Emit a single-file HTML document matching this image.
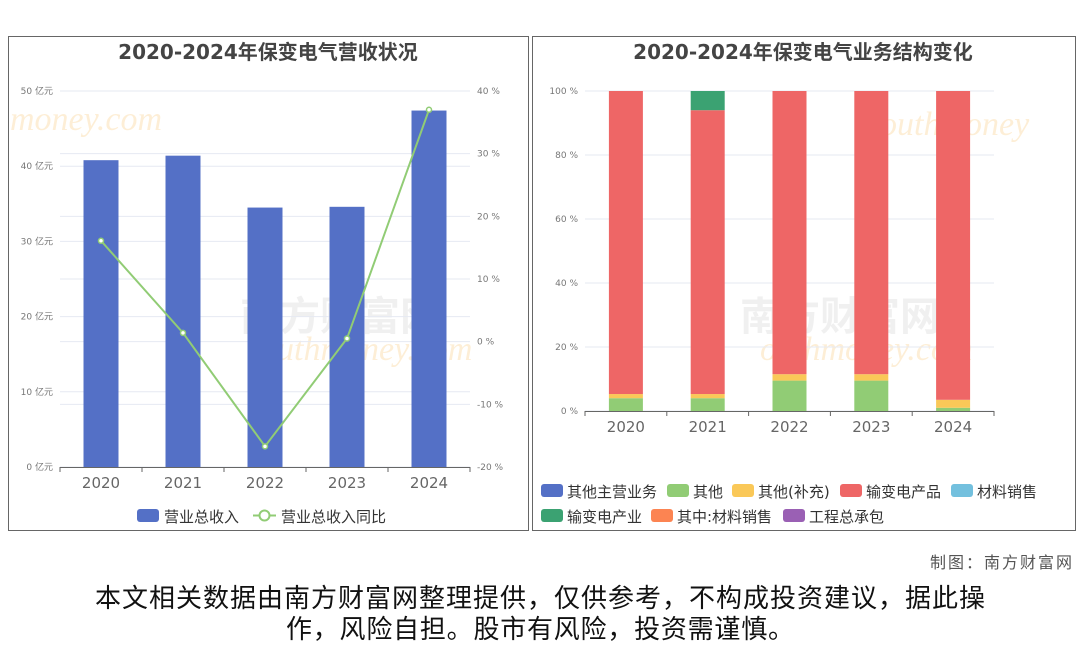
<!DOCTYPE html>
<html><head><meta charset="utf-8">
<style>
body{margin:0;background:#fff;width:1080px;height:646px;overflow:hidden;font-family:"DejaVu Sans","Noto Sans CJK SC",sans-serif;}
svg text{font-family:"DejaVu Sans","Noto Sans CJK SC",sans-serif;}
</style></head>
<body>
<svg id="s" width="1080" height="646" xmlns="http://www.w3.org/2000/svg">
<rect x="8.5" y="36.5" width="520" height="494" fill="none" stroke="#666"/>
<rect x="532.5" y="36.5" width="543" height="494" fill="none" stroke="#666"/>
<g opacity="0.12" fill="#888" font-size="40" font-weight="bold">
<text x="740" y="330">南方财富网</text><text x="240" y="330">南方财富网</text>
</g>
<g opacity="0.18" fill="#f5a623" font-size="34" font-style="italic">
<text x="760" y="360" style="font-family:'Liberation Serif',serif">outhmoney.com</text><text x="260" y="360" style="font-family:'Liberation Serif',serif">outhmoney.com</text><text x="10" y="130" style="font-family:'Liberation Serif',serif">money.com</text><text x="880" y="135" style="font-family:'Liberation Serif',serif">outhmoney</text>
</g>
<text x="268" y="59" text-anchor="middle" font-size="20" font-weight="bold" fill="#444">2020-2024年保变电气营收状况</text>
<text x="803" y="59" text-anchor="middle" font-size="20" font-weight="bold" fill="#444">2020-2024年保变电气业务结构变化</text>
<g id="L"></g><g id="R"></g>
<text x="1072" y="568" text-anchor="end" font-size="16" fill="#555" textLength="142">制图：南方财富网</text>
<text x="540" y="607" text-anchor="middle" font-size="26" fill="#111" textLength="890">本文相关数据由南方财富网整理提供，仅供参考，不构成投资建议，据此操</text>
<text x="540" y="638" text-anchor="middle" font-size="26" fill="#111" textLength="508">作，风险自担。股市有风险，投资需谨慎。</text>
</svg>
<script>
const years=["2020","2021","2022","2023","2024"];
const revenue=[40.8,41.4,34.5,34.6,47.4];
const growth=[16.1,1.4,-16.7,0.5,37.0];
const leftTicks=[0,10,20,30,40,50];
const rightTicks=[-20,-10,0,10,20,30,40];
const segNames=["其他主营业务","其他","其他(补充)","输变电产品","材料销售","输变电产业","其中:材料销售","工程总承包"];
const segColors=["#5470c6","#91cc75","#fac858","#ee6666","#73c0de","#3ba272","#fc8452","#9a60b4"];
const segOther=[4,4,9.5,9.5,1];
const segSupp=[1.3,1.3,2,2,2.5];
const segProduct=[94.7,88.7,88.5,88.5,96.5];
const segIndustry=[0,6,0,0,0];
const pctTicks=[0,20,40,60,80,100];

const NS="http://www.w3.org/2000/svg";
function mk(p,t,a,txt){const e=document.createElementNS(NS,t);for(const k in a)e.setAttribute(k,a[k]);if(txt!==undefined)e.textContent=txt;p.appendChild(e);return e;}
const L=document.getElementById('L');
const lx0=60,lx1=470,ly0=467,ly1=91;
const yL=v=>ly0-(v/50)*(ly0-ly1);
const yR=v=>ly0-((v+20)/60)*(ly0-ly1);
const bw=(lx1-lx0)/years.length;
const xc=i=>lx0+bw*(i+0.5);
leftTicks.forEach(t=>{const g=mk(L,'line',{x1:lx0,x2:lx1,y1:yL(t),y2:yL(t),stroke:'#e6e9f2'});
const tx=mk(L,'text',{x:53,y:yL(t)+3,'text-anchor':'end','font-size':9,fill:'#777'},t+' 亿元');});
rightTicks.forEach(t=>{const g=mk(L,'line',{x1:lx0,x2:lx1,y1:yR(t),y2:yR(t),stroke:'#e6e9f2'});
const tx=mk(L,'text',{x:477,y:yR(t)+3,'font-size':9,fill:'#777'},t+' %');});
revenue.forEach((v,i)=>{const r=mk(L,'rect',{x:xc(i)-17.5,y:yL(v),width:35,height:ly0-yL(v),fill:'#5470c6'});});
const ax=mk(L,'line',{x1:lx0,x2:lx1,y1:ly0+0.5,y2:ly0+0.5,stroke:'#666'});
years.forEach((y,i)=>{mk(L,'line',{x1:lx0+bw*i,x2:lx0+bw*i,y1:ly0,y2:ly0+5,stroke:'#666'});mk(L,'line',{x1:lx1,x2:lx1,y1:ly0,y2:ly0+5,stroke:'#666'});
const t=mk(L,'text',{x:xc(i),y:488,'text-anchor':'middle','font-size':15,fill:'#666'},y);});
const pl=mk(L,'polyline',{points:growth.map((v,i)=>xc(i)+','+yR(v)).join(' '),fill:'none',stroke:'#91cc75','stroke-width':2});

growth.forEach((v,i)=>{const c=mk(L,'circle',{cx:xc(i),cy:yR(v),r:2.5,fill:'#fff',stroke:'#91cc75','stroke-width':1.5});});
let lg=mk(L,'rect',{x:137,y:509,width:22,height:13,rx:3,fill:'#5470c6'});
lg=mk(L,'text',{x:164,y:522,'font-size':15,fill:'#333'},'营业总收入');
mk(L,'line',{x1:253,x2:276,y1:515.5,y2:515.5,stroke:'#91cc75','stroke-width':2});
mk(L,'circle',{cx:264.5,cy:515.5,r:5,fill:'#fff',stroke:'#91cc75','stroke-width':2});
lg=mk(L,'text',{x:281,y:522,'font-size':15,fill:'#333'},'营业总收入同比');

const R=document.getElementById('R');
const rx0=585,rx1=994,ry0=411,ry1=91;
const yP=v=>ry0-(v/100)*(ry0-ry1);
const rbw=(rx1-rx0)/years.length;
const rxc=i=>rx0+rbw*(i+0.5);
pctTicks.forEach(t=>{const g=mk(R,'line',{x1:rx0,x2:rx1,y1:yP(t),y2:yP(t),stroke:'#e6e9f2'});
const tx=mk(R,'text',{x:578,y:yP(t)+3,'text-anchor':'end','font-size':9,fill:'#777'},t+' %');});
const series=[[segOther,1],[segSupp,2],[segProduct,3],[segIndustry,5]];
years.forEach((y,i)=>{let acc=0;series.forEach(([arr,ci])=>{const v=arr[i];if(v<=0)return;const r=mk(R,'rect',{x:rxc(i)-17,y:yP(acc+v),width:34,height:yP(acc)-yP(acc+v),fill:segColors[ci]});
acc+=v;});});
const ax2=mk(R,'line',{x1:rx0,x2:rx1,y1:ry0+0.5,y2:ry0+0.5,stroke:'#666'});
years.forEach((y,i)=>{mk(R,'line',{x1:rx0+rbw*i,x2:rx0+rbw*i,y1:ry0,y2:ry0+5,stroke:'#666'});mk(R,'line',{x1:rx1,x2:rx1,y1:ry0,y2:ry0+5,stroke:'#666'});
const t=mk(R,'text',{x:rxc(i),y:432,'text-anchor':'middle','font-size':15,fill:'#666'},y);});
const legPos=[[541,491],[667,491],[732,491],[840,491],[951,491],[541,516],[651,516],[783,516]];
segNames.forEach((n,i)=>{const[x,y]=legPos[i];const s=mk(R,'rect',{x:x,y:y-7,width:22,height:13,rx:3,fill:segColors[i]});
const t=mk(R,'text',{x:x+26,y:y+6,'font-size':15,fill:'#333'},n);});
</script>
</body></html>
